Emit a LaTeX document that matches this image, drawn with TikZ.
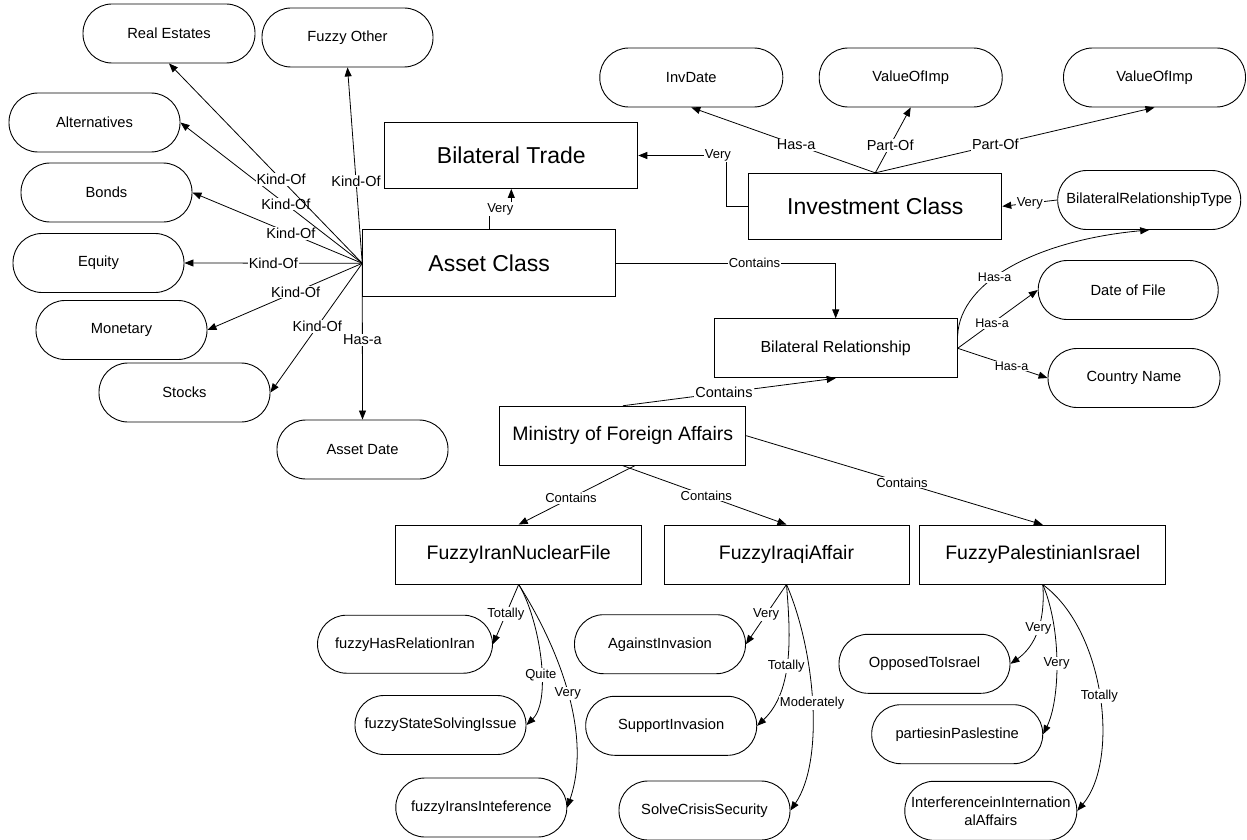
\documentclass[tikz,border=0pt]{standalone}
\usepackage{fontspec}
\setmainfont{Liberation Sans}
\usetikzlibrary{arrows.meta,calc}
\begin{document}
\begin{tikzpicture}[x=1pt,y=-1pt,
  every node/.style={font=\fontsize{14.7}{17}\selectfont},
  pill/.style={draw, rounded corners=29pt, minimum height=59pt, minimum width=171pt, inner sep=0pt, line width=0.9pt},
  bigbox/.style={draw, minimum width=253pt, minimum height=66pt, inner sep=0pt, line width=0.9pt, font=\fontsize{23}{27}\selectfont},
  midbox/.style={draw, minimum width=246pt, minimum height=59pt, inner sep=0pt, line width=0.9pt, font=\fontsize{19.5}{23}\selectfont},
  arr/.style={-{Triangle[length=9pt,width=7pt]}, line width=0.8pt},
  lbl/.style={fill=white, inner sep=1pt, font=\fontsize{14.5}{16}\selectfont},
  slbl/.style={fill=white, inner sep=1pt, font=\fontsize{13}{15}\selectfont},
  hlbl/.style={fill=white, inner sep=1pt, font=\fontsize{12.5}{14}\selectfont},
]
\useasboundingbox (0,0) rectangle (1247,840);

% ellipse-like nodes
\node[pill, minimum width=172pt] (re) at (169,33.5) {Real Estates};
\node[pill] (fo) at (347.5,37.5) {Fuzzy Other};
\node[pill] (alt) at (94.5,122.5) {Alternatives};
\node[pill] (bonds) at (106.5,192.5) {Bonds};
\node[pill] (eq) at (98.5,263) {Equity};
\node[pill] (mon) at (121.5,330) {Monetary};
\node[pill] (stocks) at (184.5,392.5) {Stocks};
\node[pill] (ad) at (362.5,449.5) {Asset Date};
\node[pill, minimum width=183pt] (invd) at (691.3,77.5) {InvDate};
\node[pill, minimum width=183pt] (voia) at (910.7,77.5) {ValueOfImp};
\node[pill, minimum width=182pt] (voib) at (1154.5,77.5) {ValueOfImp};
\node[pill, minimum width=183pt] (brt) at (1149.2,200) {BilateralRelationshipType};
\node[pill, minimum width=180pt] (dof) at (1128.2,290) {Date of File};
\node[pill, minimum width=172pt] (cn) at (1134,378) {Country Name};
\node[pill, minimum width=175pt, minimum height=58pt] (fhri) at (405,644.2) {fuzzyHasRelationIran};
\node[pill] (fssi) at (440.5,725) {fuzzyStateSolvingIssue};
\node[pill] (fii) at (481.3,807.5) {fuzzyIransInteference};
\node[pill] (ai) at (660,644.2) {AgainstInvasion};
\node[pill] (si) at (671.2,725.8) {SupportInvasion};
\node[pill] (scs) at (704.5,810.5) {SolveCrisisSecurity};
\node[pill] (oti) at (924.5,663.8) {OpposedToIsrael};
\node[pill] (pip) at (957.2,734.2) {partiesinPaslestine};
\node[pill, align=center, minimum width=172pt, font=\fontsize{14.7}{18}\selectfont] (iia) at (990.8,810.8) {InterferenceinInternation\\alAffairs};

% boxes
\node[bigbox] (bt) at (511.3,155.5) {Bilateral Trade};
\node[bigbox, minimum height=67pt] (ac) at (489.2,263.3) {Asset Class};
\node[bigbox] (ic) at (875.3,206.3) {Investment Class};
\node[midbox, minimum width=243pt, font=\fontsize{16}{19}\selectfont] (br) at (835.7,348.3) {Bilateral Relationship};
\node[midbox] (mfa) at (622.8,435.7) {Ministry of Foreign Affairs};
\node[midbox] (fini) at (518.7,554.5) {FuzzyIranNuclearFile};
\node[midbox, minimum width=245pt] (fia) at (786.5,554.5) {FuzzyIraqiAffair};
\node[midbox] (fpi) at (1042.8,554.7) {FuzzyPalestinianIsrael};

% Asset Class fan
\draw[arr] (ac.west) -- node[lbl,pos=.49]{Has-a} (ad.north);
\draw[arr] (ac.west) -- node[lbl,pos=.49]{Kind-Of} (stocks.east);
\draw[arr] (ac.west) -- node[lbl,pos=.43]{Kind-Of} (mon.east);
\draw[arr] (ac.west) -- node[lbl,pos=.5]{Kind-Of} (eq.east);
\draw[arr] (ac.west) -- node[lbl,pos=.42]{Kind-Of} (bonds.east);
\draw[arr] (ac.west) -- node[lbl,pos=.42]{Kind-Of} (alt.east);
\draw[arr] (ac.west) -- node[lbl,pos=.42]{Kind-Of} (re.south);
\draw[arr] (ac.west) -- node[lbl,pos=.42]{Kind-Of} (fo.south);

% Trade / Investment
\draw[arr] (ac.north) -- (489.2,209) -- node[slbl]{Very} (511.3,209) -- (bt.south);
\draw[arr] (ic.west) -- (726.7,206.3) -- (726.7,155.5) -- node[slbl,pos=.1]{Very} (bt.east);
\draw[arr] (ac.east) -| node[slbl,pos=.315]{Contains} (br.north);
\draw[arr] (ic.north) -- node[lbl,pos=.43]{Has-a} (invd.south);
\draw[arr] (ic.north) -- node[lbl,pos=.42]{Part-Of} (voia.south);
\draw[arr] (ic.north) -- node[lbl,pos=.43]{Part-Of} (voib.south);
\draw[arr] (brt.west) -- node[slbl]{Very} (ic.east);

% Bilateral Relationship
\draw[arr] (br.6) .. controls (960,280) and (1040,240) .. node[hlbl,pos=.4]{Has-a} (brt.south);
\draw[arr] (br.east) -- node[hlbl,pos=.43]{Has-a} (dof.west);
\draw[arr] (br.east) -- node[hlbl,pos=.6]{Has-a} (cn.west);

% Ministry
\draw[arr] (mfa.north) -- node[lbl,pos=.475]{Contains} (br.south);
\draw[arr] ($(mfa.south)+(12,0)$) -- node[slbl,pos=.55]{Contains} (fini.north);
\draw[arr] (mfa.south) -- node[slbl,pos=.51]{Contains} (fia.north);
\draw[arr] (mfa.east) -- node[slbl,pos=.525]{Contains} (fpi.north);

% Iran
\draw[arr] (fini.south) -- node[slbl]{Totally} (fhri.east);
\draw[arr] (fini.south) .. controls (540,620) and (552,700) .. node[slbl,pos=.6]{Quite} (fssi.east);
\draw[arr] (fini.south) .. controls (560,650) and (592,735) .. node[slbl,pos=.5]{Very} (fii.east);

% Iraq
\draw[arr] (fia.south) -- node[slbl]{Very} (ai.east);
\draw[arr] (fia.south) .. controls (790,630) and (795,690) .. node[slbl,pos=.55]{Totally} (si.east);
\draw[arr] (fia.south) .. controls (815,650) and (825,760) .. node[slbl,pos=.5]{Moderately} (scs.east);

% Palestine
\draw[arr] (fpi.south) .. controls (1046,630) and (1030,650) .. node[slbl,pos=.4]{Very} (oti.east);
\draw[arr] (fpi.south) .. controls (1062,630) and (1060,700) .. node[slbl,pos=.5]{Very} (pip.east);
\draw[arr] (fpi.south) .. controls (1105,630) and (1120,760) .. node[slbl,pos=.5]{Totally} (iia.east);
\end{tikzpicture}
\end{document}
